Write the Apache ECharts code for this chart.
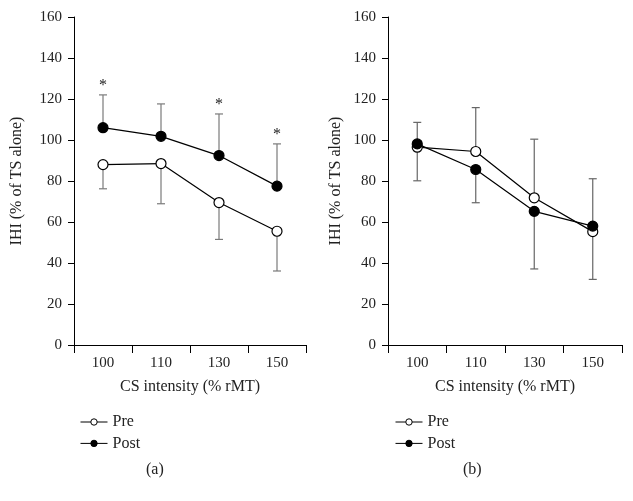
<!DOCTYPE html>
<html><head><meta charset="utf-8">
<script src="https://cdn.jsdelivr.net/npm/echarts@6/dist/echarts.min.js"></script>
<style>html,body{margin:0;padding:0;background:#fff}#c{width:633px;height:501px}</style>
</head><body><div id="c"></div>
<script>
// ---- data ----
const categories = ['100', '110', '130', '150'];
const yMin = 0, yMax = 160, yStep = 20;
// panel (a)
const preA = [88, 88.5, 69.5, 55.5];
const preSdA = [11.8, 19.6, 18.0, 19.4];
const preDirA = [-1, -1, -1, -1];
const postA = [106, 101.8, 92.4, 77.5];
const postSdA = [16.0, 15.8, 20.3, 20.6];
const postDirA = [1, 1, 1, 1];
const sigA = [1, 0, 1, 1];
// panel (b)
const preB = [96.5, 94.4, 71.8, 55.3];
const preSdB = [16.4, 21.4, 28.6, 23.3];
const preDirB = [-1, 1, 1, -1];
const postB = [98.1, 85.6, 65.2, 58.0];
const postSdB = [10.5, 16.2, 28.1, 23.1];
const postDirB = [1, -1, -1, 1];
const sigB = [0, 0, 0, 0];

const FONT = '"Liberation Serif", "DejaVu Serif", serif';

function errData(mean, sd, dir, sig) {
  return categories.map((c, i) => [i, mean[i], dir[i] * sd[i], sig ? sig[i] : 0]);
}
function makeErr(color) {
  return function (params, api) {
    const x = api.value(0), m = api.value(1), e = api.value(2), s = api.value(3);
    const p0 = api.coord([x, m]);
    const p1 = api.coord([x, m + e]);
    const hw = 4;
    const st = { stroke: color, lineWidth: 1.2 };
    const children = [
      { type: 'line', shape: { x1: p0[0], y1: p0[1], x2: p1[0], y2: p1[1] }, style: st },
      { type: 'line', shape: { x1: p1[0] - hw, y1: p1[1], x2: p1[0] + hw, y2: p1[1] }, style: st }
    ];
    if (s) {
      children.push({ type: 'text', x: p1[0], y: p1[1] - 9,
        style: { text: '*', font: '16px ' + FONT, fill: '#222', align: 'center', verticalAlign: 'middle' } });
    }
    return { type: 'group', children: children };
  };
}

function xAxis(gi) {
  return {
    type: 'category', gridIndex: gi, data: categories, boundaryGap: true,
    name: 'CS intensity (% rMT)', nameLocation: 'middle', nameGap: 34,
    nameTextStyle: { fontFamily: FONT, fontSize: 16, color: '#222' },
    axisLine: { lineStyle: { color: '#000', width: 1 } },
    axisTick: { show: true, length: 8, inside: false, alignWithLabel: false, lineStyle: { color: '#000' } },
    axisLabel: { fontFamily: FONT, fontSize: 15, color: '#222', margin: 11 },
    splitLine: { show: false }
  };
}
function yAxis(gi, gap) {
  return {
    type: 'value', gridIndex: gi, min: yMin, max: yMax, interval: yStep,
    name: 'IHI (% of TS alone)', nameLocation: 'middle', nameGap: gap, nameRotate: 90,
    nameTextStyle: { fontFamily: FONT, fontSize: 16, color: '#222' },
    axisLine: { show: true, lineStyle: { color: '#000', width: 1 } },
    axisTick: { show: true, length: 6, lineStyle: { color: '#000' } },
    axisLabel: { fontFamily: FONT, fontSize: 15, color: '#222', margin: 12 },
    splitLine: { show: false }
  };
}
function lineSeries(name, gi, data, filled) {
  return {
    name: name, type: 'line', xAxisIndex: gi, yAxisIndex: gi, data: data,
    symbol: 'circle', symbolSize: 10, z: 5,
    lineStyle: { color: '#000', width: 1.2 },
    itemStyle: { color: filled ? '#000' : '#fff', borderColor: '#000', borderWidth: 1.2 },
    emphasis: { disabled: true }, animation: false
  };
}
function errSeries(gi, data, color) {
  return {
    type: 'custom', xAxisIndex: gi, yAxisIndex: gi, data: data,
    renderItem: makeErr(color), z: 2, silent: true, animation: false,
    encode: { x: 0, y: 1 }
  };
}
function legend(left) {
  return {
    orient: 'vertical', left: left, top: 409, itemWidth: 27, itemHeight: 8, itemGap: 5.4,
    data: ['Pre', 'Post'], selectedMode: false,
    lineStyle: { width: 1 },
    itemStyle: { borderWidth: 1 },
    textStyle: { fontFamily: FONT, fontSize: 16, color: '#222', lineHeight: 14 }
  };
}

const chart = echarts.init(document.getElementById('c'), null, { renderer: 'canvas' });
chart.setOption({
  backgroundColor: '#fff',
  animation: false,
  grid: [
    { left: 74, right: 327, top: 17, bottom: 156, containLabel: false },
    { left: 388, right: 11, top: 17, bottom: 156, containLabel: false }
  ],
  xAxis: [xAxis(0), xAxis(1)],
  yAxis: [yAxis(0, 49), yAxis(1, 44)],
  legend: [legend(75), legend(390)],
  graphic: [
    { type: 'text', left: 146, top: 462, style: { text: '(a)', font: '16px ' + FONT, fill: '#222' } },
    { type: 'text', left: 463, top: 462, style: { text: '(b)', font: '16px ' + FONT, fill: '#222' } }
  ],
  series: [
    errSeries(0, errData(preA, preSdA, preDirA, null), '#7a7a7a'),
    errSeries(0, errData(postA, postSdA, postDirA, sigA), '#7a7a7a'),
    lineSeries('Pre', 0, preA, false),
    lineSeries('Post', 0, postA, true),
    errSeries(1, errData(preB, preSdB, preDirB, sigB), '#666'),
    errSeries(1, errData(postB, postSdB, postDirB, sigB), '#666'),
    lineSeries('Pre', 1, preB, false),
    lineSeries('Post', 1, postB, true)
  ]
});
</script></body></html>
